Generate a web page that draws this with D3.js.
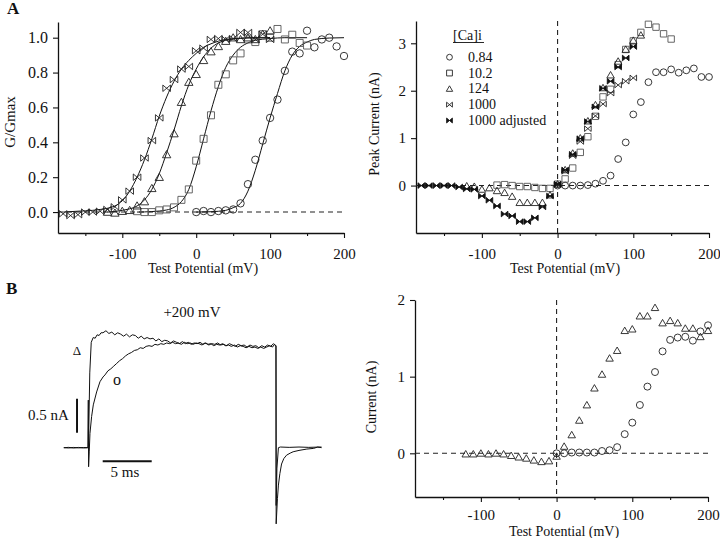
<!DOCTYPE html>
<html>
<head>
<meta charset="utf-8">
<script src="https://cdn.jsdelivr.net/npm/d3@7"></script>
<style>
body { margin: 0; background: #fff; }
svg text { font-family: "Liberation Serif", "Times New Roman", serif; fill: #111; }
</style>
</head>
<body>
<div id="fig"></div>
<script>
// ---- panel A, left: G/Gmax vs test potential ----
var gmax084 = [[0,0.0],[10,0.006],[20,0.0],[30,0.006],[40,0.01],[50,0.015],[60,0.05],[70,0.16],[80,0.30],[90,0.41],[100,0.54],[110,0.645],[120,0.81],[130,0.92],[140,0.91],[150,1.04],[160,0.945],[170,0.99],[180,1.0],[190,0.95],[200,0.895]];
var gmax102 = [[-80,0.005],[-70,0.0],[-60,0.0],[-50,0.01],[-40,0.015],[-30,0.027],[-20,0.07],[-10,0.13],[0,0.295],[10,0.42],[20,0.555],[30,0.73],[40,0.79],[50,0.87],[60,0.91],[70,0.99],[80,0.975],[90,1.02],[100,1.0],[110,1.05],[120,0.99],[130,1.017],[140,0.97],[150,0.955]];
var gmax124 = [[-120,0.0],[-110,-0.005],[-100,0.005],[-90,0.01],[-80,0.036],[-70,0.06],[-60,0.136],[-50,0.2],[-40,0.33],[-30,0.45],[-20,0.63],[-10,0.745],[0,0.79],[10,0.87],[20,0.92],[30,0.95],[40,0.98],[50,1.0],[60,0.99],[70,1.0],[80,0.99],[90,1.02],[100,1.04]];
var gmax1000 = [[-180,-0.01],[-170,-0.02],[-160,-0.015],[-150,0.0],[-140,0.0],[-130,0.005],[-120,0.015],[-110,0.03],[-100,0.07],[-90,0.12],[-80,0.20],[-70,0.31],[-60,0.41],[-50,0.54],[-40,0.71],[-30,0.76],[-20,0.82],[-10,0.835],[0,0.925],[10,0.94],[20,0.99],[30,0.995],[40,0.99],[50,0.995],[60,1.03],[70,1.03],[80,0.99],[90,1.02],[100,0.99]];

// fitted curves
var fit084 = [[0,0.0],[20,0.002],[40,0.01],[50,0.025],[60,0.05],[70,0.12],[80,0.24],[90,0.39],[100,0.54],[110,0.68],[120,0.81],[130,0.90],[140,0.95],[150,0.975],[160,0.99],[180,0.998],[200,1.0]];
var fit102 = [[-80,0.0],[-60,0.003],[-40,0.012],[-30,0.027],[-20,0.06],[-10,0.13],[0,0.26],[10,0.42],[20,0.58],[30,0.72],[40,0.83],[50,0.90],[60,0.945],[70,0.97],[80,0.985],[100,0.995],[120,1.0],[150,1.0]];
var fit124 = [[-120,0.0],[-100,0.01],[-80,0.035],[-70,0.07],[-60,0.13],[-50,0.22],[-40,0.34],[-30,0.47],[-20,0.61],[-10,0.73],[0,0.82],[10,0.89],[20,0.94],[30,0.97],[40,0.985],[60,0.996],[80,1.0],[100,1.0]];
var fit1000 = [[-180,0.0],[-160,0.005],[-140,0.01],[-130,0.015],[-120,0.022],[-110,0.035],[-100,0.065],[-90,0.12],[-80,0.20],[-70,0.30],[-60,0.42],[-50,0.55],[-40,0.66],[-30,0.75],[-20,0.82],[-10,0.87],[0,0.91],[10,0.945],[20,0.965],[30,0.98],[40,0.99],[60,0.997],[80,1.0],[100,1.0]];

// ---- panel A, right: peak current (nA) ----
var peak084 = [[0,0.0],[10,0.0],[20,0.0],[30,0.0],[40,0.01],[50,0.04],[60,0.1],[70,0.21],[80,0.56],[90,0.91],[100,1.5],[110,1.76],[120,2.18],[130,2.39],[140,2.39],[150,2.45],[160,2.38],[170,2.43],[180,2.47],[190,2.29],[200,2.29]];
var peak102 = [[-80,0.01],[-70,0.02],[-60,0.0],[-50,-0.02],[-40,-0.02],[-30,-0.04],[-20,-0.06],[-10,-0.06],[0,0.03],[10,0.14],[20,0.37],[30,0.70],[40,1.03],[50,1.46],[60,1.87],[70,2.03],[80,2.55],[90,2.87],[100,3.05],[110,3.23],[120,3.40],[130,3.34],[140,3.2],[150,3.09]];
var peak124 = [[-120,-0.01],[-110,-0.02],[-100,-0.08],[-90,-0.05],[-80,-0.11],[-70,-0.15],[-60,-0.23],[-50,-0.36],[-40,-0.36],[-30,-0.36],[-20,-0.36],[-10,-0.2],[0,0.03],[10,0.33],[20,0.68],[30,1.0],[40,1.36],[50,1.7],[60,2.06],[70,2.33],[80,2.62],[90,2.87],[100,3.06],[110,3.17]];
var peak1000 = [[0,0.02],[10,0.3],[20,0.63],[30,0.93],[40,1.2],[50,1.47],[60,1.72],[70,1.95],[80,2.12],[90,2.2],[100,2.27]];
var peak1000adj = [[-180,0],[-170,0],[-160,0],[-150,0],[-140,0],[-130,-0.03],[-120,-0.07],[-110,-0.08],[-100,-0.22],[-90,-0.31],[-80,-0.43],[-70,-0.6],[-60,-0.64],[-50,-0.76],[-40,-0.76],[-30,-0.68],[-20,-0.45],[-10,-0.22],[0,0.03],[10,0.33],[20,0.66],[30,0.99],[40,1.35],[50,1.66],[60,2.05],[70,2.2],[80,2.5],[90,2.69],[100,2.93]];

var legendLabels = ['0.84', '10.2', '124', '1000', '1000 adjusted'];
var legendShapes = ['circle', 'square', 'triangle', 'bowtie', 'bowtieFilled'];

// ---- panel B, right: current (nA) ----
var curTri = [[-120,-0.01],[-110,-0.01],[-100,0.0],[-90,-0.01],[-80,0.0],[-70,-0.01],[-60,-0.03],[-50,-0.05],[-40,-0.065],[-30,-0.09],[-20,-0.11],[-10,-0.10],[0,-0.04],[10,0.09],[20,0.24],[30,0.43],[40,0.63],[50,0.85],[60,1.03],[70,1.24],[80,1.34],[90,1.60],[100,1.62],[110,1.79],[120,1.79],[130,1.90],[140,1.70],[150,1.73],[160,1.70],[170,1.63],[180,1.63],[190,1.52],[200,1.60]];
var curCirc = [[0,0.0],[10,0.0],[20,0.01],[30,0.01],[40,0.01],[50,0.01],[60,0.03],[70,0.04],[80,0.08],[90,0.25],[100,0.40],[110,0.63],[120,0.87],[130,1.06],[140,1.33],[150,1.48],[160,1.51],[170,1.52],[180,1.47],[190,1.59],[200,1.67]];

// ---- panel B, left: current traces at +200 mV (ms, nA) ----
var traceCirc = [[-2.5,0],[-2.0,0.005],[-1.5,-0.005],[-1.0,0.004],[-0.5,-0.004],[-0.05,0],
  [0,0.70],[0.03,-0.28],[0.1,-0.05],[0.17,0.21],[0.34,0.46],[0.51,0.63],[0.85,0.82],[1.19,0.97],[1.5,1.04],
  [1.7,1.07],[2.0,1.13],[2.3,1.16],[2.6,1.20],[2.9,1.24],[3.2,1.28],[3.5,1.31],[3.8,1.35],[4.1,1.38],[4.4,1.40],
  [4.7,1.43],[5.0,1.44],[5.3,1.47],[5.6,1.46],[5.9,1.49],[6.2,1.50],[6.5,1.49],[6.8,1.52],[7.1,1.51],[7.4,1.53],
  [7.7,1.52],[8.0,1.54],[8.3,1.53],[8.6,1.55],[8.9,1.53],[9.2,1.54],[9.5,1.52],[9.8,1.55],[10.1,1.53],[10.4,1.54],
  [10.7,1.52],[11.0,1.54],[11.3,1.53],[11.6,1.51],[11.9,1.54],[12.2,1.52],[12.5,1.53],[12.8,1.50],[13.1,1.52],
  [13.4,1.51],[13.7,1.53],[14.0,1.50],[14.3,1.51],[14.6,1.49],[14.9,1.51],[15.2,1.48],[15.5,1.50],[15.8,1.49],
  [16.1,1.47],[16.4,1.49],[16.7,1.47],[17.0,1.48],[17.3,1.46],[17.6,1.48],[17.9,1.46],[18.2,1.48],[18.5,1.50],
  [18.8,1.48],[19.0,1.52],[19.15,1.5],
  [19.17,-1.12],[19.3,-0.75],[19.4,-0.55],[19.55,-0.38],[19.72,-0.24],[19.95,-0.16],[20.23,-0.11],[20.6,-0.08],
  [20.9,-0.06],[21.5,-0.04],[22.3,-0.02],[23.0,-0.01],[23.4,0.01],[23.8,0]];
var traceTri = [[-2.5,0],[-2.0,-0.004],[-1.5,0.004],[-1.0,-0.003],[-0.5,0.003],[-0.05,0],[0.02,0.02],
  [0.15,1.1],[0.3,1.55],[0.5,1.62],[0.7,1.61],[0.9,1.66],[1.1,1.65],[1.3,1.69],[1.5,1.69],[1.8,1.72],[2.1,1.68],
  [2.4,1.70],[2.7,1.66],[3.0,1.69],[3.3,1.67],[3.6,1.64],[3.9,1.67],[4.2,1.63],[4.5,1.66],[4.8,1.65],[5.1,1.61],
  [5.4,1.64],[5.7,1.60],[6.0,1.62],[6.3,1.60],[6.6,1.61],[6.9,1.57],[7.2,1.60],[7.5,1.56],[7.8,1.58],[8.1,1.57],
  [8.4,1.54],[8.7,1.57],[9.0,1.55],[9.3,1.53],[9.6,1.56],[9.9,1.53],[10.2,1.55],[10.5,1.52],[10.8,1.54],[11.1,1.53],
  [11.4,1.55],[11.7,1.52],[12.0,1.54],[12.3,1.51],[12.6,1.53],[12.9,1.52],[13.2,1.54],[13.5,1.51],[13.8,1.52],
  [14.1,1.50],[14.4,1.53],[14.7,1.51],[15.0,1.49],[15.3,1.52],[15.6,1.50],[15.9,1.51],[16.2,1.48],[16.5,1.51],
  [16.8,1.49],[17.1,1.50],[17.4,1.47],[17.7,1.50],[18.0,1.48],[18.3,1.51],[18.6,1.49],[18.9,1.53],[19.1,1.50],
  [19.15,1.50],
  [19.17,-0.85],[19.25,-0.3],[19.4,0.0],[19.6,0.01],[20.5,0.005],[21.5,0.01],[22.5,0.005],[23.8,0.01]];
var scaleBarMs = 5;
var scaleBarNa = 0.5;

var xTicksMajor = [-100, 0, 100, 200];
var xTicksMinor = [-150, -50, 50, 150];
var gTicks = [0, 0.2, 0.4, 0.6, 0.8, 1.0];
var peakTicks = [0, 1, 2, 3];
var curTicks = [0, 1, 2];

var svg = d3.select('#fig')
            .append('svg')
            .attr('width', 720)
            .attr('height', 538);

function markerPath(type, s) {
    if (type == 'circle') return `M${-s},0a${s},${s} 0 1,0 ${2*s},0a${s},${s} 0 1,0 ${-2*s},0`;
    if (type == 'square') return `M${-s},${-s}h${2*s}v${2*s}h${-2*s}Z`;
    if (type == 'triangle') return `M0,${-s*1.05}L${s*1.1},${s*0.85}L${-s*1.1},${s*0.85}Z`;
    return `M${-s},${-s*0.85}L${s},${s*0.85}L${s},${-s*0.85}L${-s},${s*0.85}Z`;
}

function drawSeries(g, data, x, y, type, s, color) {
    var filled = type == 'bowtieFilled';
    g.selectAll(null)
     .data(data)
     .enter()
     .append('path')
     .attr('transform', d => `translate(${x(d[0])},${y(d[1])})`)
     .attr('d', markerPath(type, s))
     .attr('fill', filled ? '#111' : 'none')
     .attr('stroke', color)
     .attr('stroke-width', 0.9);
}

function drawAxes(g, x, y, yTicks, yFmt, yFontSize, xPad) {
    var xMaj = d3.axisBottom(x).tickValues(xTicksMajor).tickSize(5).tickPadding(xPad)
                 .tickSizeOuter(0).tickFormat(d => String(d));
    var xMin = d3.axisBottom(x).tickValues(xTicksMinor).tickSize(3).tickSizeOuter(0).tickFormat('');
    var yAx = d3.axisLeft(y).tickValues(yTicks).tickSize(5).tickPadding(5)
                .tickSizeOuter(0).tickFormat(yFmt);
    var y0 = y.range()[0], x0 = x.range()[0];

    var ga = g.append('g').attr('transform', `translate(0,${y0})`).call(xMaj);
    g.append('g').attr('transform', `translate(0,${y0})`).call(xMin).select('.domain').remove();
    var gy = g.append('g').attr('transform', `translate(${x0},0)`).call(yAx);

    [ga, gy].forEach(function(a) {
        a.selectAll('.domain').attr('stroke', '#111').attr('stroke-width', 1.3);
        a.selectAll('text').attr('fill', '#111').attr('font-family', null).attr('font-size', null);
    });
    ga.selectAll('text').style('font-size', '15px');
    gy.selectAll('text').style('font-size', yFontSize + 'px');
    g.selectAll('.tick line').attr('stroke', '#111').attr('stroke-width', 1.1);
}

function dashed(g, x1, y1, x2, y2) {
    g.append('line')
     .attr('x1', x1).attr('y1', y1).attr('x2', x2).attr('y2', y2)
     .attr('stroke', '#222').attr('stroke-width', 1.1)
     .attr('stroke-dasharray', '5,4');
}

var fitLine = function(x, y) {
    return d3.line().x(d => x(d[0])).y(d => y(d[1])).curve(d3.curveMonotoneX);
};

// ===== Panel A left =====
var aL = svg.append('g');
var xAL = d3.scaleLinear().domain([-187, 200]).range([58, 344]);
var yAL = d3.scaleLinear().domain([-0.12, 1.09]).range([233, 22]);
drawAxes(aL, xAL, yAL, gTicks, d3.format('.1f'), 16, 10);
dashed(aL, xAL(-187), yAL(0), xAL(200), yAL(0));

[fit084, fit102, fit124, fit1000].forEach(function(f) {
    aL.append('path').datum(f)
      .attr('d', fitLine(xAL, yAL))
      .attr('fill', 'none').attr('stroke', '#111').attr('stroke-width', 1);
});
drawSeries(aL, gmax084, xAL, yAL, 'circle', 3.7, '#222');
drawSeries(aL, gmax102, xAL, yAL, 'square', 3.5, '#555');
drawSeries(aL, gmax124, xAL, yAL, 'triangle', 3.8, '#222');
drawSeries(aL, gmax1000, xAL, yAL, 'bowtie', 3.8, '#222');

aL.append('text')
  .attr('transform', `translate(15, 122) rotate(-90)`)
  .attr('text-anchor', 'middle')
  .style('font-size', '15px')
  .text('G/Gmax');
aL.append('text')
  .attr('x', 203).attr('y', 273)
  .attr('text-anchor', 'middle')
  .style('font-size', '14px')
  .text('Test Potential (mV)');

// ===== Panel A right =====
var aR = svg.append('g');
var xAR = d3.scaleLinear().domain([-187, 200]).range([416, 709]);
var yAR = d3.scaleLinear().domain([-1, 3.47]).range([233, 21]);
drawAxes(aR, xAR, yAR, peakTicks, d3.format('d'), 15, 10);
dashed(aR, xAR(-187), yAR(0), xAR(200), yAR(0));
dashed(aR, xAR(0), yAR(3.47), xAR(0), yAR(-1));

drawSeries(aR, peak084, xAR, yAR, 'circle', 3.4, '#222');
drawSeries(aR, peak102, xAR, yAR, 'square', 3.2, '#555');
drawSeries(aR, peak124, xAR, yAR, 'triangle', 3.4, '#222');
drawSeries(aR, peak1000, xAR, yAR, 'bowtie', 3.3, '#222');
drawSeries(aR, peak1000adj, xAR, yAR, 'bowtieFilled', 3.3, '#111');

aR.append('text')
  .attr('transform', `translate(379, 124) rotate(-90)`)
  .attr('text-anchor', 'middle')
  .style('font-size', '14px')
  .text('Peak Current (nA)');
aR.append('text')
  .attr('x', 565).attr('y', 273)
  .attr('text-anchor', 'middle')
  .style('font-size', '14px')
  .text('Test Potential (mV)');

// legend
var leg = aR.append('g');
leg.append('text').attr('x', 453).attr('y', 40).style('font-size', '14px').text('[Ca]i');
leg.append('line').attr('x1', 453).attr('x2', 484).attr('y1', 42.5).attr('y2', 42.5)
   .attr('stroke', '#111').attr('stroke-width', 0.9);
var legY = d3.scalePoint().domain(legendLabels).range([61.7, 125]);
legendLabels.forEach(function(lab, i) {
    leg.append('path')
       .attr('transform', `translate(449.5,${legY(lab) - 4.5})`)
       .attr('d', markerPath(legendShapes[i], 2.9))
       .attr('fill', legendShapes[i] == 'bowtieFilled' ? '#111' : 'none')
       .attr('stroke', '#222').attr('stroke-width', 0.9);
    leg.append('text').attr('x', 468).attr('y', legY(lab)).style('font-size', '14px').text(lab);
});

// ===== Panel B right =====
var bR = svg.append('g');
var xBR = d3.scaleLinear().domain([-187, 200]).range([415, 708]);
var yBR = d3.scaleLinear().domain([-0.57, 2.0]).range([497, 300]);
drawAxes(bR, xBR, yBR, curTicks, d3.format('d'), 15, 7);
dashed(bR, xBR(-187), yBR(0), xBR(200), yBR(0));
dashed(bR, xBR(0), yBR(2.0), xBR(0), yBR(-0.57));

drawSeries(bR, curCirc, xBR, yBR, 'circle', 3.5, '#222');
drawSeries(bR, curTri, xBR, yBR, 'triangle', 3.4, '#222');

bR.append('text')
  .attr('transform', `translate(376, 397) rotate(-90)`)
  .attr('text-anchor', 'middle')
  .style('font-size', '14px')
  .text('Current (nA)');
bR.append('text')
  .attr('x', 564).attr('y', 535.5)
  .attr('text-anchor', 'middle')
  .style('font-size', '14px')
  .text('Test Potential (mV)');

// ===== Panel B left: traces =====
var bL = svg.append('g');
var xT = d3.scaleLinear().domain([0, 5]).range([88.3, 137.3]);
var yT = d3.scaleLinear().domain([0, 0.5]).range([447.7, 413.7]);
var traceLine = d3.line().x(d => xT(d[0])).y(d => yT(d[1]));

[traceCirc, traceTri].forEach(function(tr) {
    bL.append('path').datum(tr)
      .attr('d', traceLine)
      .attr('fill', 'none').attr('stroke', '#111').attr('stroke-width', 1);
});

// scale bars
bL.append('line')
  .attr('x1', xT(-1.15)).attr('x2', xT(-1.15))
  .attr('y1', yT(0.22)).attr('y2', yT(0.22 + scaleBarNa))
  .attr('stroke', '#111').attr('stroke-width', 2);
bL.append('line')
  .attr('x1', xT(1.47)).attr('x2', xT(1.47 + scaleBarMs))
  .attr('y1', yT(-0.2)).attr('y2', yT(-0.2))
  .attr('stroke', '#111').attr('stroke-width', 2);

bL.append('text').attr('x', 28).attr('y', 420).style('font-size', '15px').text('0.5 nA');
bL.append('text').attr('x', 125).attr('y', 477).attr('text-anchor', 'middle').style('font-size', '15px').text('5 ms');
bL.append('text').attr('x', 192).attr('y', 317).attr('text-anchor', 'middle').style('font-size', '15px').text('+200 mV');
bL.append('text').attr('x', 77).attr('y', 355).attr('text-anchor', 'middle').style('font-size', '13px').text('\u0394');
bL.append('text').attr('x', 117).attr('y', 385).attr('text-anchor', 'middle').style('font-size', '16px').text('o');

// panel letters
svg.append('text').attr('x', 7).attr('y', 14).style('font-size', '17px').style('font-weight', 'bold').text('A');
svg.append('text').attr('x', 6).attr('y', 294).style('font-size', '17px').style('font-weight', 'bold').text('B');
</script>
</body>
</html>
